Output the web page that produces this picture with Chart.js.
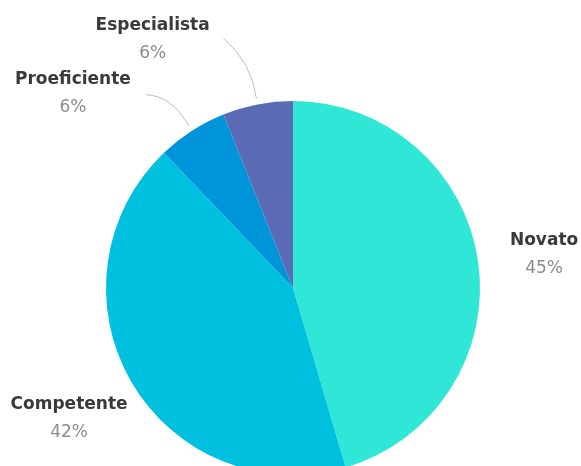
<!DOCTYPE html>
<html>
<head>
<meta charset="utf-8">
<script src="https://cdn.jsdelivr.net/npm/chart.js@4"></script>
<style>
  html, body { margin: 0; padding: 0; background: #ffffff; overflow: hidden; }
  #wrap { position: relative; width: 581px; height: 580px; }
</style>
</head>
<body>
<div id="wrap"><canvas id="chart"></canvas></div>
<script>
// Proficiency levels and their share of respondents (%)
const levels = ['Novato', 'Competente', 'Proeficiente', 'Especialista'];
const shares = [45, 42, 6, 6];
const sliceColors = ['#2fe6d7', '#00c0e0', '#0095da', '#5b6ab4'];

// Where each outside label sits, relative to the slice's outer-edge midpoint
const labelPlacement = {
  'Novato':       { dx: 66,   dy: -8 },
  'Competente':   { dx: -62,  dy: 36 },
  'Proeficiente': { dx: -119, dy: -38, line: { cx: -20, cy: -35, ex: -46, ey: -36 } },
  'Especialista': { dx: -105, dy: -66, line: { cx: -6,  cy: -42, ex: -34, ey: -66 } }
};

const outsideLabels = {
  id: 'outsideLabels',
  afterDatasetsDraw(chart) {
    const { ctx } = chart;
    const meta = chart.getDatasetMeta(0);
    meta.data.forEach((arc, i) => {
      const p = arc.getProps(['x', 'y', 'startAngle', 'endAngle', 'outerRadius'], true);
      const mid = (p.startAngle + p.endAngle) / 2;
      const ex = p.x + Math.cos(mid) * p.outerRadius;
      const ey = p.y + Math.sin(mid) * p.outerRadius;
      const place = labelPlacement[levels[i]];

      if (place.line) {
        ctx.save();
        ctx.strokeStyle = '#bdbdbd';
        ctx.lineWidth = 1;
        ctx.beginPath();
        ctx.moveTo(p.x + Math.cos(mid) * (p.outerRadius + 6), p.y + Math.sin(mid) * (p.outerRadius + 6));
        ctx.quadraticCurveTo(ex + place.line.cx, ey + place.line.cy, ex + place.line.ex, ey + place.line.ey);
        ctx.stroke();
        ctx.restore();
      }

      const lx = ex + place.dx;
      const ly = ey + place.dy;
      ctx.save();
      ctx.textAlign = 'center';
      ctx.textBaseline = 'middle';
      ctx.fillStyle = '#3a3a3a';
      ctx.font = 'bold 17px "DejaVu Sans"';
      ctx.fillText(levels[i], lx, ly - 13);
      ctx.fillStyle = '#8c8c8c';
      ctx.font = '17px "DejaVu Sans"';
      ctx.fillText(shares[i] + '%', lx, ly + 15);
      ctx.restore();
    });
  }
};

new Chart(document.getElementById('chart'), {
  type: 'pie',
  data: {
    labels: levels,
    datasets: [{
      data: shares,
      backgroundColor: sliceColors,
      borderWidth: 0
    }]
  },
  options: {
    responsive: true,
    maintainAspectRatio: false,
    animation: false,
    layout: { padding: { top: 101, bottom: 105, left: 106, right: 101 } },
    plugins: {
      legend: { display: false },
      tooltip: { enabled: false }
    }
  },
  plugins: [outsideLabels]
});
</script>
</body>
</html>
